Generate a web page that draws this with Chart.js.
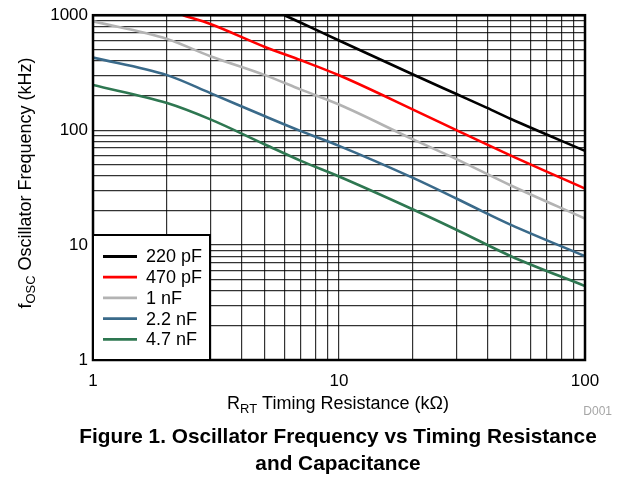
<!DOCTYPE html>
<html>
<head>
<meta charset="utf-8">
<script src="https://cdn.jsdelivr.net/npm/chart.js@4.4.1/dist/chart.umd.min.js"></script>
<style>
  body { margin: 0; background: #fff; }
  canvas { display: block; }
</style>
</head>
<body>
<canvas id="chart" width="619" height="480"></canvas>
<script>
// values (R in kOhm, f in kHz)
const labels = ['220 pF', '470 pF', '1 nF', '2.2 nF', '4.7 nF'];
const colors = ['#000000', '#ff0000', '#b3b3b3', '#3a6a8a', '#2e7751'];

const r220 = [6.0, 7, 10, 20, 30, 40, 50, 100];
const f220 = [1000, 860, 603, 305, 206, 156, 125, 66];
const r470 = [2.32, 3, 5, 7, 10, 20, 30, 50, 100];
const f470 = [1000, 838, 529, 405, 300, 151, 100, 60, 31];
const r1n = [1, 2, 3, 5, 7, 10, 20, 30, 50, 100];
const f1n = [885, 622, 440, 301, 225, 167, 83, 56, 33, 17];
const r22n = [1, 2, 3, 5, 7, 10, 20, 30, 40, 50, 100];
const f22n = [428, 301, 210, 132, 98, 73, 38.4, 25.4, 18.8, 15, 8];
const r47n = [1, 2, 3, 5, 7, 10, 20, 30, 50, 100];
const f47n = [247, 172, 124, 75, 54, 39.5, 20.4, 13.6, 8, 4.4];

const xTicks = [1, 2, 3, 4, 5, 6, 7, 8, 9, 10, 20, 30, 40, 50, 60, 70, 80, 90, 100];
const yTicks = [1, 2, 3, 4, 5, 6, 7, 8, 9, 10, 20, 30, 40, 50, 60, 70, 80, 90,
                100, 200, 300, 400, 500, 600, 700, 800, 900, 1000];
const xLabels = [1, 10, 100];
const yLabels = [1, 10, 100, 1000];

const series = [[r220, f220], [r470, f470], [r1n, f1n], [r22n, f22n], [r47n, f47n]];
const FONT = '"Liberation Sans", Arial, sans-serif';

function pts(xs, ys) {
    return xs.map((x, i) => ({ x: x, y: ys[i] }));
}

const datasets = series.map((s, i) => ({
    label: labels[i],
    data: pts(s[0], s[1]),
    borderColor: colors[i],
    backgroundColor: colors[i],
    borderWidth: 2.6,
    pointRadius: 0,
    cubicInterpolationMode: 'monotone',
    clip: 0
}));

function drawSub(ctx, x, y, main, sub, rest, size) {
    ctx.font = size + 'px ' + FONT;
    const w1 = ctx.measureText(main).width;
    ctx.font = (size * 0.72) + 'px ' + FONT;
    const w2 = ctx.measureText(sub).width;
    ctx.font = size + 'px ' + FONT;
    const w3 = ctx.measureText(rest).width;
    let left = x - (w1 + w2 + w3) / 2;
    ctx.textAlign = 'left';
    ctx.textBaseline = 'alphabetic';
    ctx.fillText(main, left, y);
    ctx.font = (size * 0.72) + 'px ' + FONT;
    ctx.fillText(sub, left + w1, y + size * 0.22);
    ctx.font = size + 'px ' + FONT;
    ctx.fillText(rest, left + w1 + w2, y);
}

const decor = {
    id: 'decor',
    afterDraw(chart) {
        const ctx = chart.ctx;
        const a = chart.chartArea;
        ctx.save();
        // plot frame
        ctx.strokeStyle = '#000';
        ctx.lineWidth = 2.5;
        ctx.strokeRect(a.left, a.top, a.right - a.left, a.bottom - a.top);

        // legend box
        const lx = a.left, ly = 235, lw = 117, lh = a.bottom - 235;
        ctx.fillStyle = '#fff';
        ctx.fillRect(lx, ly, lw, lh);
        ctx.lineWidth = 2;
        ctx.strokeRect(lx, ly, lw, lh);
        ctx.font = '18px ' + FONT;
        ctx.textBaseline = 'middle';
        ctx.textAlign = 'left';
        labels.forEach((t, i) => {
            const y = 256.5 + i * 20.7;
            ctx.strokeStyle = colors[i];
            ctx.lineWidth = 2.8;
            ctx.beginPath();
            ctx.moveTo(lx + 10, y);
            ctx.lineTo(lx + 44, y);
            ctx.stroke();
            ctx.fillStyle = '#000';
            ctx.fillText(t, lx + 53, y + 1);
        });

        // axis titles
        ctx.fillStyle = '#000';
        drawSub(ctx, 338, 409, 'R', 'RT', ' Timing Resistance (k\u03A9)', 18);
        ctx.save();
        ctx.translate(31, 183);
        ctx.rotate(-Math.PI / 2);
        drawSub(ctx, 0, 0, 'f', 'OSC', ' Oscillator Frequency (kHz)', 18);
        ctx.restore();

        // figure id
        ctx.font = '12px ' + FONT;
        ctx.fillStyle = '#a6a6a6';
        ctx.textAlign = 'right';
        ctx.textBaseline = 'alphabetic';
        ctx.fillText('D001', 612, 415);

        // caption
        ctx.font = 'bold 20.8px ' + FONT;
        ctx.fillStyle = '#000';
        ctx.textAlign = 'center';
        ctx.textBaseline = 'middle';
        ctx.fillText('Figure 1. Oscillator Frequency vs Timing Resistance', 338, 437);
        ctx.fillText('and Capacitance', 338, 464);
        ctx.restore();
    }
};

const gridStyle = {
    color: 'rgba(0,0,0,0.8)',
    lineWidth: 1.2,
    drawTicks: false
};

new Chart(document.getElementById('chart').getContext('2d'), {
    type: 'line',
    data: { datasets: datasets },
    options: {
        responsive: false,
        animation: false,
        layout: { padding: { left: 0, top: 11, right: 34, bottom: 90 } },
        plugins: { legend: { display: false }, tooltip: { enabled: false } },
        scales: {
            x: {
                type: 'logarithmic',
                min: 1,
                max: 100,
                grid: gridStyle,
                border: { display: false },
                afterBuildTicks: (s) => { s.ticks = xTicks.map(v => ({ value: v })); },
                afterFit: (s) => { s.height = 30; },
                ticks: {
                    autoSkip: false,
                    maxRotation: 0,
                    padding: 11,
                    color: '#000',
                    font: { family: FONT, size: 17 },
                    callback: (v) => xLabels.includes(v) ? String(v) : ''
                }
            },
            y: {
                type: 'logarithmic',
                min: 1,
                max: 1000,
                grid: gridStyle,
                border: { display: false },
                afterBuildTicks: (s) => { s.ticks = yTicks.map(v => ({ value: v })); },
                afterFit: (s) => { s.width = 93; },
                ticks: {
                    autoSkip: false,
                    padding: 5,
                    color: '#000',
                    font: { family: FONT, size: 17 },
                    callback: (v) => yLabels.includes(v) ? String(v) : ''
                }
            }
        }
    },
    plugins: [decor]
});
</script>
</body>
</html>
